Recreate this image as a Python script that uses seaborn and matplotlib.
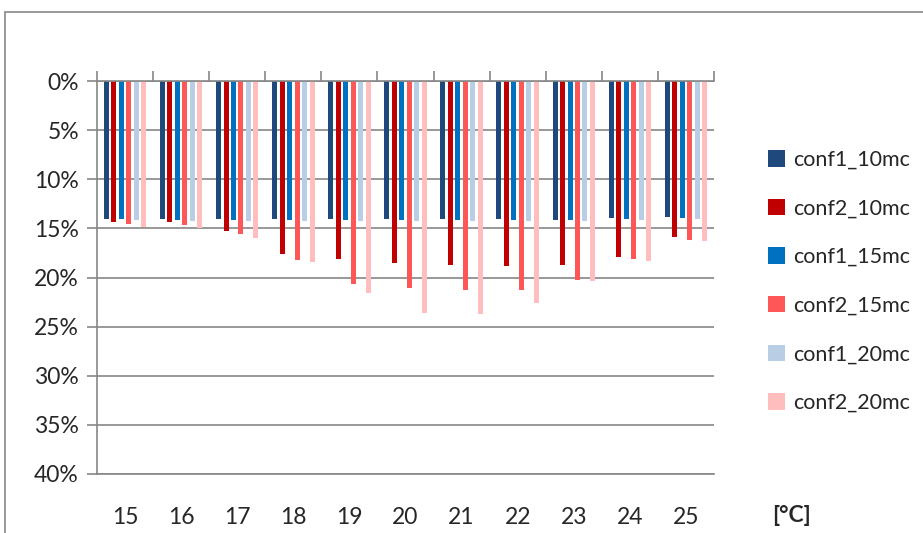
import numpy as np
import pandas as pd
import seaborn as sns
import matplotlib.pyplot as plt
from matplotlib.ticker import PercentFormatter, FixedLocator
from matplotlib.patches import Rectangle

temps = ['15', '16', '17', '18', '19', '20', '21', '22', '23', '24', '25']
series = ['conf1_10mc', 'conf2_10mc', 'conf1_15mc', 'conf2_15mc', 'conf1_20mc', 'conf2_20mc']

conf1_10mc = [14.0, 14.0, 14.05, 14.0, 14.0, 14.0, 14.0, 14.0, 14.15, 13.95, 13.85]
conf2_10mc = [14.35, 14.35, 15.3, 17.6, 18.1, 18.5, 18.7, 18.8, 18.75, 17.95, 15.9]
conf1_15mc = [14.05, 14.1, 14.1, 14.1, 14.1, 14.1, 14.1, 14.15, 14.15, 14.0, 13.95]
conf2_15mc = [14.6, 14.7, 15.6, 18.2, 20.7, 21.1, 21.25, 21.3, 20.25, 18.15, 16.15]
conf1_20mc = [14.15, 14.2, 14.2, 14.2, 14.2, 14.2, 14.2, 14.3, 14.25, 14.15, 14.0]
conf2_20mc = [14.9, 14.95, 16.0, 18.4, 21.55, 23.6, 23.7, 22.6, 20.4, 18.3, 16.3]

colors = ['#1F497D', '#C00000', '#0070C0', '#FF5757', '#B9CDE5', '#FFBDBD']

values = [conf1_10mc, conf2_10mc, conf1_15mc, conf2_15mc, conf1_20mc, conf2_20mc]
rows = []
for name, vals in zip(series, values):
    for t, v in zip(temps, vals):
        rows.append({'temp': t, 'series': name, 'value': v / 100})
df = pd.DataFrame(rows)

sns.set_style('white')
plt.rcParams['font.family'] = ['Lato', 'DejaVu Sans']
grid_col = '#868686'

fig = plt.figure(figsize=(9.23, 5.33), dpi=100)
ax = fig.add_axes([97 / 923, 1 - 474 / 533, (714 - 97) / 923, (474 - 81) / 533])

# outer chart frame (document border)
fig.patches.append(Rectangle((5 / 923, -0.1), 1.2, 1 - 12 / 533 + 0.1, transform=fig.transFigure,
                             fill=False, edgecolor=grid_col, linewidth=1.2))

sns.barplot(data=df, x='temp', y='value', hue='series', palette=colors, hue_order=series,
            order=temps, width=0.8, gap=0.33, linewidth=0, saturation=1, ax=ax, legend=True)

ax.set_ylim(0.40, 0)
ax.set_xlim(-0.5, 10.5)
ax.set_yticks(np.arange(0, 0.41, 0.05))
ax.yaxis.set_major_formatter(PercentFormatter(1.0, decimals=0))
ax.grid(axis='y', color=grid_col, linewidth=1.2)
ax.grid(axis='x', visible=False)
ax.set_axisbelow(True)

ax.spines['right'].set_visible(False)
for side in ['top', 'left', 'bottom']:
    ax.spines[side].set_color(grid_col)
    ax.spines[side].set_linewidth(1.2)

ax.xaxis.set_minor_locator(FixedLocator(np.arange(-0.5, 11, 1)))
ax.tick_params(axis='x', which='major', bottom=True, top=False, length=0, pad=24, labelsize=16.5)
ax.tick_params(axis='x', which='minor', bottom=False, top=True, length=7, width=1.2, color=grid_col)
ax.tick_params(axis='y', which='major', left=True, length=7, width=1.2, color=grid_col,
               pad=6, labelsize=16.5)
ax.set_xlabel('')
ax.set_ylabel('')

handles, labels = ax.get_legend_handles_labels()
ax.legend(handles, labels, loc='upper left', bbox_to_anchor=(757 / 923, 1 - 139 / 533),
          bbox_transform=fig.transFigure, frameon=False, fontsize=15.5, borderpad=0,
          handlelength=0.8, handleheight=0.8, handletextpad=0.4, labelspacing=1.33)

fig.text(792 / 923, 1 - 515 / 533, '[°C]', fontsize=16.5, fontweight='bold', ha='center', va='center')

fig.savefig('out.png', dpi=100)
